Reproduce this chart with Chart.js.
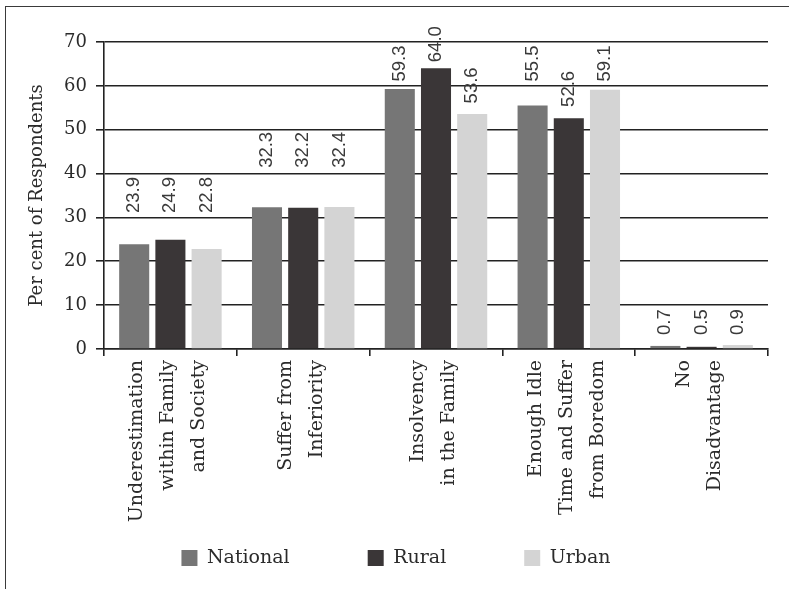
<!DOCTYPE html>
<html><head><meta charset="utf-8">
<script src="https://cdn.jsdelivr.net/npm/chart.js@4/dist/chart.umd.min.js"></script>
<style>
html,body{margin:0;padding:0;background:#fff;}
#wrap{position:relative;width:789px;height:589px;overflow:hidden;background:#fff;}
#frame{position:absolute;left:5px;top:6px;width:900px;height:700px;border:1px solid #3a3a3a;}
canvas{position:absolute;left:0;top:0;}
</style></head><body>
<div id="wrap"><div id="frame"></div><canvas id="c" width="789" height="589" style="width:789px;height:589px"></canvas></div>
<script>
const categories = [
  ["Underestimation", "within Family", "and Society"],
  ["Suffer from", "Inferiority"],
  ["Insolvency", "in the Family"],
  ["Enough Idle", "Time and Suffer", "from Boredom"],
  ["No", "Disadvantage"]
];
const seriesNames = ["National", "Rural", "Urban"];
const national = [23.9, 32.3, 59.3, 55.5, 0.7];
const rural = [24.9, 32.2, 64.0, 52.6, 0.5];
const urban = [22.8, 32.4, 53.6, 59.1, 0.9];
// value-label anchor heights (in axis units), as placed in the original
const nationalLabelAt = [31.0, 41.3, 61.0, 61.0, 3.2];
const ruralLabelAt = [31.0, 41.3, 65.4, 55.2, 3.2];
const urbanLabelAt = [31.0, 41.3, 56.0, 61.0, 3.2];
const yMin = 0, yMax = 70, yStep = 10;
const yTitle = "Per cent of Respondents";

const SERIF = "'DejaVu Serif', serif";
const SANS = "'Liberation Sans', Arial, sans-serif";

const dataArr = [national, rural, urban];
const labelAtArr = [nationalLabelAt, ruralLabelAt, urbanLabelAt];

const valueLabels = {
  id: 'valueLabels',
  afterDatasetsDraw(chart) {
    const ctx = chart.ctx;
    const ys = chart.scales.y;
    ctx.save();
    ctx.font = "18.5px " + SANS;
    ctx.fillStyle = "#3a3a3a";
    ctx.textAlign = "left";
    ctx.textBaseline = "middle";
    chart.data.datasets.forEach((ds, di) => {
      const meta = chart.getDatasetMeta(di);
      meta.data.forEach((bar, i) => {
        ctx.save();
        ctx.translate(bar.x, ys.getPixelForValue(labelAtArr[di][i]));
        ctx.rotate(-Math.PI / 2);
        ctx.fillText(ds.data[i].toFixed(1), 0, 0);
        ctx.restore();
      });
    });
    ctx.restore();
  }
};

const xLabels = {
  id: 'xLabels',
  afterDraw(chart) {
    const ctx = chart.ctx;
    const xs = chart.scales.x;
    const lh = 31;
    ctx.save();
    ctx.font = "19px " + SERIF;
    ctx.fillStyle = "#2b2b2b";
    ctx.textAlign = "right";
    ctx.textBaseline = "middle";
    categories.forEach((lines, i) => {
      const cx = xs.getPixelForValue(i);
      const n = lines.length;
      lines.forEach((line, j) => {
        const off = (j - (n - 1) / 2) * lh - 2;
        ctx.save();
        ctx.translate(cx + off, xs.top + 11);
        ctx.rotate(-Math.PI / 2);
        ctx.fillText(line, 0, 0);
        ctx.restore();
      });
    });
    ctx.restore();
  }
};

const colors = ["#767676", "#3a3637", "#d4d4d4"];

new Chart(document.getElementById('c'), {
  type: 'bar',
  data: {
    labels: categories.map(c => c.join(' ')),
    datasets: seriesNames.map((name, k) => ({
      label: name,
      data: dataArr[k],
      backgroundColor: colors[k],
      borderWidth: 0,
      categoryPercentage: 0.818,
      barPercentage: 0.83
    }))
  },
  options: {
    responsive: false,
    animation: false,
    devicePixelRatio: 1,
    layout: { padding: { left: 24, right: 21, top: 42, bottom: 11.5 } },
    plugins: {
      tooltip: { enabled: false },
      legend: {
        position: 'bottom',
        labels: {
          boxWidth: 16, boxHeight: 16,
          padding: 78,
          color: "#2b2b2b",
          font: { family: SERIF, size: 19 }
        }
      }
    },
    scales: {
      x: {
        grid: { offset: true, drawOnChartArea: false, drawTicks: true, tickLength: 7, color: "#222", lineWidth: 1.6 },
        border: { display: true, color: "#222", width: 1.6 },
        ticks: { display: false },
        afterFit(scale) { scale.height = 470.5 - 349; }
      },
      y: {
        min: yMin, max: yMax,
        ticks: { stepSize: yStep, padding: 9, color: "#2b2b2b", font: { family: SERIF, size: 18 } },
        grid: { color: "#222", lineWidth: 1.6, tickLength: 8 },
        border: { display: true, color: "#222", width: 1.6 },
        title: { display: true, text: yTitle, color: "#2b2b2b", font: { family: SERIF, size: 18 }, padding: { top: 3, bottom: 0 } },
        afterFit(scale) { scale.width = 80; }
      }
    }
  },
  plugins: [valueLabels, xLabels]
});
</script>
</body></html>
